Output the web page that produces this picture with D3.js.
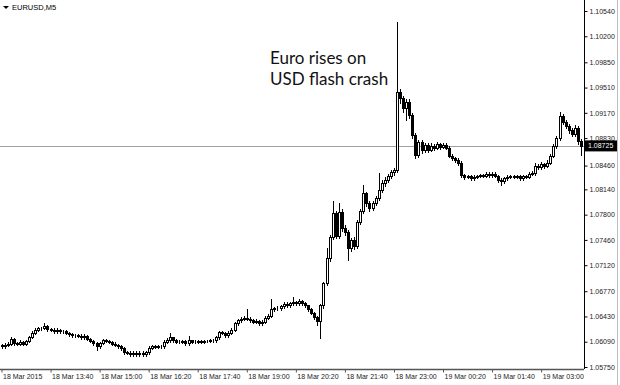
<!DOCTYPE html>
<html>
<head>
<meta charset="utf-8">
<script src="https://cdn.jsdelivr.net/npm/d3@7"></script>
<style>
  html, body { margin: 0; padding: 0; background: #fff; }
  svg { display: block; }
</style>
</head>
<body>
<div id="chart"></div>
<script>
// EURUSD M5 candles, 18 Mar 2015 12:20 onwards
const firstOpen = 1.0604;
const closes = [
  1.0603, 1.0605, 1.0606, 1.0613, 1.0607, 1.0606, 1.0609, 1.0606, 1.0610, 1.0615,
  1.0621, 1.0625, 1.0627, 1.0627, 1.0630, 1.0626, 1.0625, 1.0623, 1.0625, 1.0623,
  1.0623, 1.0621, 1.0619, 1.0618, 1.0618, 1.0617, 1.0615, 1.0617, 1.0613, 1.0610,
  1.0607, 1.0603, 1.0607, 1.0611, 1.0610, 1.0609, 1.0606, 1.0605, 1.0603, 1.0601,
  1.0595, 1.0594, 1.0592, 1.0594, 1.0592, 1.0594, 1.0592, 1.0595, 1.0601, 1.0603,
  1.0602, 1.0603, 1.0603, 1.0609, 1.0611, 1.0615, 1.0611, 1.0609, 1.0609, 1.0610,
  1.0607, 1.0611, 1.0609, 1.0609, 1.0610, 1.0609, 1.0610, 1.0610, 1.0611, 1.0611,
  1.0615, 1.0622, 1.0621, 1.0618, 1.0621, 1.0625, 1.0634, 1.0638, 1.0640, 1.0641,
  1.0640, 1.0638, 1.0636, 1.0637, 1.0634, 1.0636, 1.0641, 1.0644, 1.0653, 1.0654,
  1.0654, 1.0657, 1.0660, 1.0658, 1.0661, 1.0662, 1.0661, 1.0664, 1.0661, 1.0658,
  1.0653, 1.0648, 1.0642, 1.0637, 1.0658, 1.0688, 1.0722, 1.0750, 1.0782, 1.0751,
  1.0784, 1.0762, 1.0757, 1.0735, 1.0746, 1.0738, 1.0770, 1.0785, 1.0809, 1.0796,
  1.0789, 1.0796, 1.0802, 1.0813, 1.0823, 1.0827, 1.0832, 1.0837, 1.0840, 1.0945,
  1.0937, 1.0924, 1.0932, 1.0914, 1.0887, 1.0860, 1.0878, 1.0867, 1.0874, 1.0867,
  1.0872, 1.0870, 1.0875, 1.0871, 1.0874, 1.0870, 1.0859, 1.0856, 1.0854, 1.0850,
  1.0833, 1.0831, 1.0832, 1.0829, 1.0831, 1.0832, 1.0833, 1.0832, 1.0835, 1.0833,
  1.0835, 1.0832, 1.0827, 1.0825, 1.0829, 1.0831, 1.0832, 1.0831, 1.0832, 1.0829,
  1.0832, 1.0831, 1.0835, 1.0836, 1.0846, 1.0844, 1.0848, 1.0846, 1.0850, 1.0859,
  1.0872, 1.0883, 1.0913, 1.0905, 1.0899, 1.0894, 1.0889, 1.0897, 1.0879, 1.08725
];
const highs = [
  1.0606, 1.0607, 1.0608, 1.0616, 1.0614, 1.0609, 1.0611, 1.0610, 1.0612, 1.0617,
  1.0623, 1.0627, 1.0629, 1.0629, 1.0634, 1.0631, 1.0628, 1.0627, 1.0627, 1.0626,
  1.0625, 1.0625, 1.0622, 1.0621, 1.0620, 1.0620, 1.0619, 1.0619, 1.0618, 1.0614,
  1.0611, 1.0608, 1.0609, 1.0613, 1.0613, 1.0612, 1.0610, 1.0608, 1.0606, 1.0604,
  1.0602, 1.0597, 1.0596, 1.0596, 1.0596, 1.0596, 1.0596, 1.0597, 1.0603, 1.0605,
  1.0605, 1.0605, 1.0605, 1.0611, 1.0614, 1.0621, 1.0616, 1.0613, 1.0611, 1.0612,
  1.0611, 1.0617, 1.0612, 1.0611, 1.0612, 1.0612, 1.0612, 1.0612, 1.0613, 1.0613,
  1.0617, 1.0624, 1.0624, 1.0622, 1.0623, 1.0627, 1.0636, 1.0640, 1.0642, 1.0643,
  1.0653, 1.0642, 1.0640, 1.0639, 1.0638, 1.0638, 1.0643, 1.0646, 1.0667, 1.0656,
  1.0657, 1.0659, 1.0662, 1.0663, 1.0663, 1.0669, 1.0664, 1.0666, 1.0665, 1.0662,
  1.0659, 1.0654, 1.0649, 1.0643, 1.0660, 1.0690, 1.0735, 1.0753, 1.0799, 1.0785,
  1.0796, 1.0787, 1.0766, 1.0760, 1.0749, 1.0750, 1.0773, 1.0788, 1.0820, 1.0811,
  1.0799, 1.0799, 1.0805, 1.0836, 1.0826, 1.0830, 1.0835, 1.0840, 1.0843, 1.1039,
  1.0949, 1.0940, 1.0936, 1.0935, 1.0917, 1.0890, 1.0881, 1.0881, 1.0877, 1.0877,
  1.0876, 1.0875, 1.0878, 1.0877, 1.0876, 1.0876, 1.0872, 1.0861, 1.0858, 1.0856,
  1.0852, 1.0835, 1.0834, 1.0834, 1.0833, 1.0834, 1.0835, 1.0835, 1.0837, 1.0837,
  1.0837, 1.0837, 1.0834, 1.0829, 1.0831, 1.0833, 1.0834, 1.0834, 1.0834, 1.0834,
  1.0834, 1.0834, 1.0837, 1.0839, 1.0849, 1.0848, 1.0851, 1.0850, 1.0853, 1.0862,
  1.0875, 1.0886, 1.0918, 1.0915, 1.0908, 1.0902, 1.0897, 1.0900, 1.0899, 1.0882
];
const lows = [
  1.0601, 1.0601, 1.0603, 1.0604, 1.0605, 1.0604, 1.0604, 1.0604, 1.0605, 1.0609,
  1.0614, 1.0620, 1.0623, 1.0625, 1.0626, 1.0624, 1.0623, 1.0621, 1.0621, 1.0621,
  1.0621, 1.0619, 1.0617, 1.0616, 1.0615, 1.0615, 1.0613, 1.0613, 1.0611, 1.0608,
  1.0605, 1.0598, 1.0601, 1.0606, 1.0608, 1.0607, 1.0604, 1.0603, 1.0601, 1.0598,
  1.0593, 1.0592, 1.0590, 1.0590, 1.0590, 1.0590, 1.0590, 1.0590, 1.0593, 1.0599,
  1.0600, 1.0600, 1.0601, 1.0601, 1.0607, 1.0609, 1.0609, 1.0607, 1.0607, 1.0607,
  1.0605, 1.0605, 1.0607, 1.0607, 1.0607, 1.0607, 1.0607, 1.0608, 1.0608, 1.0609,
  1.0609, 1.0613, 1.0619, 1.0616, 1.0616, 1.0619, 1.0623, 1.0632, 1.0636, 1.0638,
  1.0638, 1.0636, 1.0634, 1.0634, 1.0632, 1.0632, 1.0634, 1.0639, 1.0642, 1.0650,
  1.0652, 1.0652, 1.0655, 1.0656, 1.0656, 1.0659, 1.0659, 1.0659, 1.0659, 1.0656,
  1.0651, 1.0646, 1.0640, 1.0632, 1.0614, 1.0655, 1.0685, 1.0718, 1.0747, 1.0748,
  1.0748, 1.0758, 1.0752, 1.0719, 1.0731, 1.0734, 1.0735, 1.0767, 1.0782, 1.0792,
  1.0785, 1.0786, 1.0793, 1.0800, 1.0810, 1.0819, 1.0824, 1.0829, 1.0834, 1.0837,
  1.0930, 1.0918, 1.0907, 1.0910, 1.0883, 1.0856, 1.0857, 1.0863, 1.0864, 1.0864,
  1.0865, 1.0867, 1.0868, 1.0868, 1.0869, 1.0868, 1.0857, 1.0853, 1.0851, 1.0847,
  1.0830, 1.0828, 1.0829, 1.0827, 1.0827, 1.0829, 1.0830, 1.0830, 1.0830, 1.0831,
  1.0831, 1.0830, 1.0824, 1.0820, 1.0823, 1.0827, 1.0829, 1.0829, 1.0829, 1.0827,
  1.0827, 1.0829, 1.0829, 1.0833, 1.0834, 1.0841, 1.0842, 1.0843, 1.0844, 1.0848,
  1.0857, 1.0869, 1.0880, 1.0902, 1.0896, 1.0890, 1.0886, 1.0886, 1.0875, 1.0860
];
// FX candles open at the previous close
const opens = [firstOpen].concat(closes.slice(0, -1));

const timeLabels = ["18 Mar 2015", "18 Mar 13:40", "18 Mar 15:00", "18 Mar 16:20",
  "18 Mar 17:40", "18 Mar 19:00", "18 Mar 20:20", "18 Mar 21:40", "18 Mar 23:00",
  "19 Mar 00:20", "19 Mar 01:40", "19 Mar 03:00"];
const timeLabelIndex = [0, 16, 32, 48, 64, 80, 96, 112, 128, 144, 160, 176];
const priceTicks = [1.10540, 1.10200, 1.09850, 1.09510, 1.09170, 1.08830, 1.08460,
  1.08140, 1.07800, 1.07460, 1.07120, 1.06770, 1.06430, 1.06090, 1.05750];
const lastPrice = 1.08725;

const W = 620, H = 385;
const plotRight = 584, plotBottom = 369;

const svg = d3.select('#chart').append('svg')
  .attr('width', W).attr('height', H)
  .style('font-family', '"Liberation Sans", Arial, sans-serif');

const x = d3.scaleLinear().domain([0, closes.length - 1]).range([1.5, 581]);
const y = d3.scaleLinear().domain([1.0575, 1.1054]).range([367, 11]);

// right edge of the window
svg.append('line').attr('x1', 617.5).attr('x2', 617.5).attr('y1', 0).attr('y2', H)
  .attr('stroke', '#bdbdbd');

// current price line
svg.append('line')
  .attr('x1', 0).attr('x2', plotRight)
  .attr('y1', Math.round(y(lastPrice)) + 0.5).attr('y2', Math.round(y(lastPrice)) + 0.5)
  .attr('stroke', '#a0a0a0').attr('stroke-width', 1);

// candles
const candles = svg.append('g').attr('shape-rendering', 'crispEdges');
closes.forEach((c, i) => {
  const o = opens[i];
  const px = Math.round(x(i));
  candles.append('line')
    .attr('x1', px + 0.5).attr('x2', px + 0.5)
    .attr('y1', Math.round(y(highs[i]))).attr('y2', Math.round(y(lows[i])) + 1)
    .attr('stroke', '#000').attr('stroke-width', 1);
  const top = Math.round(y(Math.max(o, c))), bot = Math.round(y(Math.min(o, c)));
  candles.append('rect')
    .attr('x', px - 0.5).attr('width', 2)
    .attr('y', top + 0.5).attr('height', Math.max(bot - top, 0))
    .attr('fill', c >= o ? '#fff' : '#000')
    .attr('stroke', '#000').attr('stroke-width', 1);
});

// price axis
const yAxis = d3.axisRight(y).tickValues(priceTicks).tickSize(3).tickPadding(2)
  .tickFormat(d3.format('.5f'));
const gy = svg.append('g').attr('transform', `translate(${plotRight + 0.5},0)`).call(yAxis);
gy.select('.domain').attr('d', `M0,0V${plotBottom}`).attr('stroke', '#000');
gy.selectAll('.tick line').attr('stroke', '#000');
gy.selectAll('.tick text').style('font-size', '7px').attr('fill', '#222');

// last price tag
const tagY = y(lastPrice);
svg.append('rect').attr('x', plotRight + 1).attr('y', tagY - 5.5).attr('width', 32).attr('height', 11)
  .attr('fill', '#000');
svg.append('text').attr('x', plotRight + 4).attr('y', tagY).attr('dy', '0.35em')
  .style('font-size', '7px').attr('fill', '#fff').text(d3.format('.5f')(lastPrice));

// time axis
const xAxis = d3.axisBottom(x).tickValues(timeLabelIndex).tickSize(3).tickPadding(2)
  .tickFormat((d, i) => timeLabels[i]);
const gx = svg.append('g').attr('transform', `translate(0,${plotBottom + 0.5})`).call(xAxis);
gx.select('.domain').attr('d', `M0,0H${plotRight}`).attr('stroke', '#555').attr('stroke-width', 1.5);
gx.selectAll('.tick line').attr('stroke', '#555');
gx.selectAll('.tick text').style('font-size', '7px').attr('fill', '#222')
  .attr('text-anchor', 'start').attr('dx', 1);

// symbol title
svg.append('path').attr('d', 'M3,6 L9,6 L6,9 Z').attr('fill', '#000');
svg.append('text').attr('x', 12).attr('y', 10).style('font-size', '7.5px').attr('fill', '#000')
  .text('EURUSD,M5');

// annotation
const note = svg.append('text').attr('x', 270).attr('y', 64)
  .style('font-family', 'Lato, "Open Sans", sans-serif').style('font-size', '17px').attr('fill', '#111');
note.append('tspan').attr('x', 270).attr('dy', 0).text('Euro rises on');
note.append('tspan').attr('x', 270).attr('dy', 21).text('USD flash crash');
</script>
</body>
</html>
